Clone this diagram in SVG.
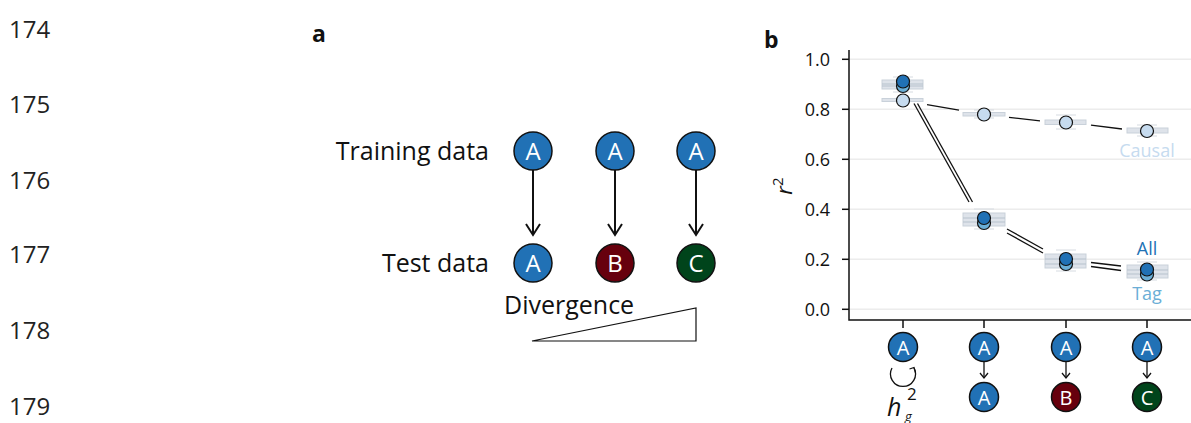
<svg xmlns="http://www.w3.org/2000/svg" width="1191" height="423" viewBox="0 0 1191 423">
<style>
.ln{font-family:"Open Sans","Noto Sans",sans-serif;font-size:24px;fill:#222}
.lab{font-family:"Open Sans","Noto Sans",sans-serif;font-size:25px;fill:#111}
.pl{font-family:"Open Sans","Noto Sans",sans-serif;font-size:23px;font-weight:bold;fill:#111}
.nt{font-family:"Open Sans","Noto Sans",sans-serif;fill:#fff;text-anchor:middle}
.big{font-size:24px}
.sm{font-size:20px}
.tk{font-family:"Open Sans","Noto Sans",sans-serif;font-size:18px;fill:#111;text-anchor:end}
.nA{fill:#2171b5;stroke:#111;stroke-width:1.5}
.nB{fill:#67000d;stroke:#111;stroke-width:1.5}
.nC{fill:#00441b;stroke:#111;stroke-width:1.5}
.ax{stroke:#111;stroke-width:1.5;fill:none}
.grid{stroke:#ececec;stroke-width:1.5}
.box{fill:#d8dee6;fill-opacity:0.85;stroke:#c9d1da;stroke-width:1}
.med{stroke:#b7c2cd;stroke-width:1}
.wh{stroke:#d6dbe1;stroke-width:1}
.dl{stroke:#111;stroke-width:1.3;fill:none}
.pc{fill:#c6dbef;stroke:#111;stroke-width:1.2}
.pt{fill:#6baed6;stroke:#111;stroke-width:1.2}
.pa{fill:#2171b5;stroke:#111;stroke-width:1.2}
.arr{stroke:#111;stroke-width:2;fill:none}
.arr2{stroke:#111;stroke-width:1.3;fill:none}
</style>

<g id="line-numbers">
<text class="ln" x="9" y="38">174</text>
<text class="ln" x="9" y="113">175</text>
<text class="ln" x="9" y="189">176</text>
<text class="ln" x="9" y="263">177</text>
<text class="ln" x="9" y="339">178</text>
<text class="ln" x="9" y="415">179</text>
</g>

<g id="panel-a">
<text class="pl" x="312" y="42">a</text>
<text class="lab" x="489" y="160" text-anchor="end">Training data</text>
<text class="lab" x="489" y="272" text-anchor="end">Test data</text>
<g id="connectors-a">
<line class="arr" x1="533" y1="170" x2="533" y2="235"/>
<polyline class="arr" points="526,224 533,235 540,224"/>
<line class="arr" x1="615" y1="170" x2="615" y2="235"/>
<polyline class="arr" points="608,224 615,235 622,224"/>
<line class="arr" x1="696" y1="170" x2="696" y2="235"/>
<polyline class="arr" points="689,224 696,235 703,224"/>
</g>
<g id="a-train-1"><circle class="nA" cx="533" cy="151" r="19"/><text class="nt big" x="533" y="160">A</text></g>
<g id="a-train-2"><circle class="nA" cx="615" cy="151" r="19"/><text class="nt big" x="615" y="160">A</text></g>
<g id="a-train-3"><circle class="nA" cx="696" cy="151" r="19"/><text class="nt big" x="696" y="160">A</text></g>
<g id="a-test-1"><circle class="nA" cx="533" cy="263" r="19"/><text class="nt big" x="533" y="272">A</text></g>
<g id="a-test-2"><circle class="nB" cx="615" cy="263" r="19"/><text class="nt big" x="615" y="272">B</text></g>
<g id="a-test-3"><circle class="nC" cx="696" cy="263" r="19"/><text class="nt big" x="696" y="272">C</text></g>
<text class="lab" x="504" y="314">Divergence</text>
<polygon points="532,341 696,308 696,341" fill="#fff" stroke="#111" stroke-width="1.2"/>
</g>

<g id="panel-b">
<text class="pl" x="764" y="48">b</text>
<g id="grid">
<line class="grid" x1="850" y1="59.3" x2="1191" y2="59.3"/>
<line class="grid" x1="850" y1="109.3" x2="1191" y2="109.3"/>
<line class="grid" x1="850" y1="159.3" x2="1191" y2="159.3"/>
<line class="grid" x1="850" y1="209.3" x2="1191" y2="209.3"/>
<line class="grid" x1="850" y1="259.3" x2="1191" y2="259.3"/>
<line class="grid" x1="850" y1="309.3" x2="1191" y2="309.3"/>
</g>
<g id="axes">
<path class="ax" d="M849,50 V320 H1191"/>
<line class="ax" x1="842" y1="59.3" x2="849" y2="59.3"/>
<line class="ax" x1="842" y1="109.3" x2="849" y2="109.3"/>
<line class="ax" x1="842" y1="159.3" x2="849" y2="159.3"/>
<line class="ax" x1="842" y1="209.3" x2="849" y2="209.3"/>
<line class="ax" x1="842" y1="259.3" x2="849" y2="259.3"/>
<line class="ax" x1="842" y1="309.3" x2="849" y2="309.3"/>
<line class="ax" x1="903" y1="320" x2="903" y2="328"/>
<line class="ax" x1="984" y1="320" x2="984" y2="328"/>
<line class="ax" x1="1066" y1="320" x2="1066" y2="328"/>
<line class="ax" x1="1147" y1="320" x2="1147" y2="328"/>
<text class="tk" x="830" y="66">1.0</text>
<text class="tk" x="830" y="116">0.8</text>
<text class="tk" x="830" y="166">0.6</text>
<text class="tk" x="830" y="216">0.4</text>
<text class="tk" x="830" y="266">0.2</text>
<text class="tk" x="830" y="316">0.0</text>
<text x="792" y="186" transform="rotate(-90 792 186)" font-family="'Open Sans','Noto Sans',sans-serif" font-size="22" font-style="italic" fill="#111" text-anchor="middle">r<tspan dy="-9" font-size="15" font-style="normal">2</tspan></text>
</g>
<g id="boxes">
<line class="wh" x1="893" y1="77" x2="913" y2="77"/><line class="wh" x1="893" y1="92" x2="913" y2="92"/>
<rect class="box" x="882" y="80" width="41" height="9"/>
<line class="med" x1="882" y1="84" x2="923" y2="84"/><line class="med" x1="882" y1="86" x2="923" y2="86"/>
<rect class="box" x="882" y="98.5" width="41" height="3"/>
<line class="wh" x1="974" y1="110" x2="994" y2="110"/><line class="wh" x1="974" y1="118" x2="994" y2="118"/>
<rect class="box" x="963" y="112.5" width="42" height="3.5"/>
<line class="wh" x1="974" y1="209" x2="994" y2="209"/><line class="wh" x1="974" y1="229" x2="994" y2="229"/>
<rect class="box" x="963" y="213" width="42" height="13"/>
<line class="med" x1="963" y1="218" x2="1005" y2="218"/><line class="med" x1="963" y1="222" x2="1005" y2="222"/>
<line class="wh" x1="1056" y1="115" x2="1076" y2="115"/><line class="wh" x1="1056" y1="129" x2="1076" y2="129"/>
<rect class="box" x="1045" y="120" width="41" height="4.5"/>
<line class="wh" x1="1056" y1="250" x2="1076" y2="250"/><line class="wh" x1="1056" y1="271" x2="1076" y2="271"/>
<rect class="box" x="1045" y="254" width="41" height="14"/>
<line class="med" x1="1045" y1="259" x2="1086" y2="259"/><line class="med" x1="1045" y1="264" x2="1086" y2="264"/>
<line class="wh" x1="1137" y1="125" x2="1157" y2="125"/><line class="wh" x1="1137" y1="136" x2="1157" y2="136"/>
<rect class="box" x="1127" y="128" width="41" height="5"/>
<line class="wh" x1="1137" y1="262" x2="1157" y2="262"/><line class="wh" x1="1137" y1="280" x2="1157" y2="280"/>
<rect class="box" x="1127" y="265" width="41" height="13"/>
<line class="med" x1="1127" y1="270" x2="1168" y2="270"/><line class="med" x1="1127" y1="274" x2="1168" y2="274"/>
</g>
<g id="connectors-b">
<line class="dl" x1="927" y1="104.7" x2="959" y2="110.2"/>
<line class="dl" x1="1009" y1="117.4" x2="1040" y2="120.8"/>
<line class="dl" x1="1091" y1="125.2" x2="1122" y2="129"/>
<line class="dl" x1="914" y1="103.5" x2="969" y2="202"/>
<line class="dl" x1="917.5" y1="103.5" x2="972.5" y2="202"/>
<line class="dl" x1="1007" y1="229" x2="1043" y2="249"/>
<line class="dl" x1="1007" y1="233" x2="1043" y2="253"/>
<line class="dl" x1="1091" y1="262.5" x2="1121" y2="266"/>
<line class="dl" x1="1091" y1="266.5" x2="1121" y2="270.5"/>
</g>
<g id="points">
<circle class="pt" cx="903" cy="86" r="6.5"/><circle class="pa" cx="903" cy="81.5" r="6.5"/>
<circle class="pc" cx="903" cy="100.5" r="6.5"/>
<circle class="pc" cx="984" cy="114.5" r="6.5"/>
<circle class="pt" cx="984" cy="223" r="6.5"/><circle class="pa" cx="984" cy="218" r="6.5"/>
<circle class="pc" cx="1066" cy="122.5" r="6.5"/>
<circle class="pt" cx="1066" cy="264" r="6.5"/><circle class="pa" cx="1066" cy="259" r="6.5"/>
<circle class="pc" cx="1147" cy="131" r="6.5"/>
<circle class="pt" cx="1147" cy="274.5" r="6.5"/><circle class="pa" cx="1147" cy="269.5" r="6.5"/>
</g>
<g id="series-labels" font-family="'Open Sans','Noto Sans',sans-serif" font-size="18" text-anchor="middle">
<text x="1147" y="157" fill="#c6dbef">Causal</text>
<text x="1147" y="255" fill="#2171b5">All</text>
<text x="1147" y="300" fill="#6baed6">Tag</text>
</g>
<g id="b-axis-nodes">
<g id="b-n1"><circle class="nA" cx="903" cy="347" r="14.5"/><text class="nt sm" x="903" y="354.5">A</text></g>
<g id="b-n2"><circle class="nA" cx="984" cy="347" r="14.5"/><text class="nt sm" x="984" y="354.5">A</text></g>
<g id="b-n3"><circle class="nA" cx="1066" cy="347" r="14.5"/><text class="nt sm" x="1066" y="354.5">A</text></g>
<g id="b-n4"><circle class="nA" cx="1147" cy="347" r="14.5"/><text class="nt sm" x="1147" y="354.5">A</text></g>
<g id="b-n5"><circle class="nA" cx="984" cy="397" r="14.5"/><text class="nt sm" x="984" y="404.5">A</text></g>
<g id="b-n6"><circle class="nB" cx="1066" cy="397" r="14.5"/><text class="nt sm" x="1066" y="404.5">B</text></g>
<g id="b-n7"><circle class="nC" cx="1147" cy="397" r="14.5"/><text class="nt sm" x="1147" y="404.5">C</text></g>
</g>
<g id="connectors-b-nodes">
<line class="arr2" x1="984" y1="362" x2="984" y2="378"/><polyline class="arr2" points="980,373 984,378 988,373"/>
<line class="arr2" x1="1066" y1="362" x2="1066" y2="378"/><polyline class="arr2" points="1062,373 1066,378 1070,373"/>
<line class="arr2" x1="1147" y1="362" x2="1147" y2="378"/><polyline class="arr2" points="1143,373 1147,378 1151,373"/>
<path class="arr2" d="M892,368 A12.5,12.5 0 1,0 914,368"/>
<polyline class="arr2" points="909.5,369 914,367.5 915.5,372.5"/>
</g>
<text x="887" y="416" font-family="'Open Sans','Noto Sans',sans-serif" font-size="25" font-style="italic" fill="#111">h<tspan x="907" y="400" font-size="17" font-style="normal">2</tspan></text>
<text x="905" y="421" font-family="'Open Sans','Noto Sans',sans-serif" font-size="13" font-style="italic" fill="#111">g</text>
</g>
</svg>
